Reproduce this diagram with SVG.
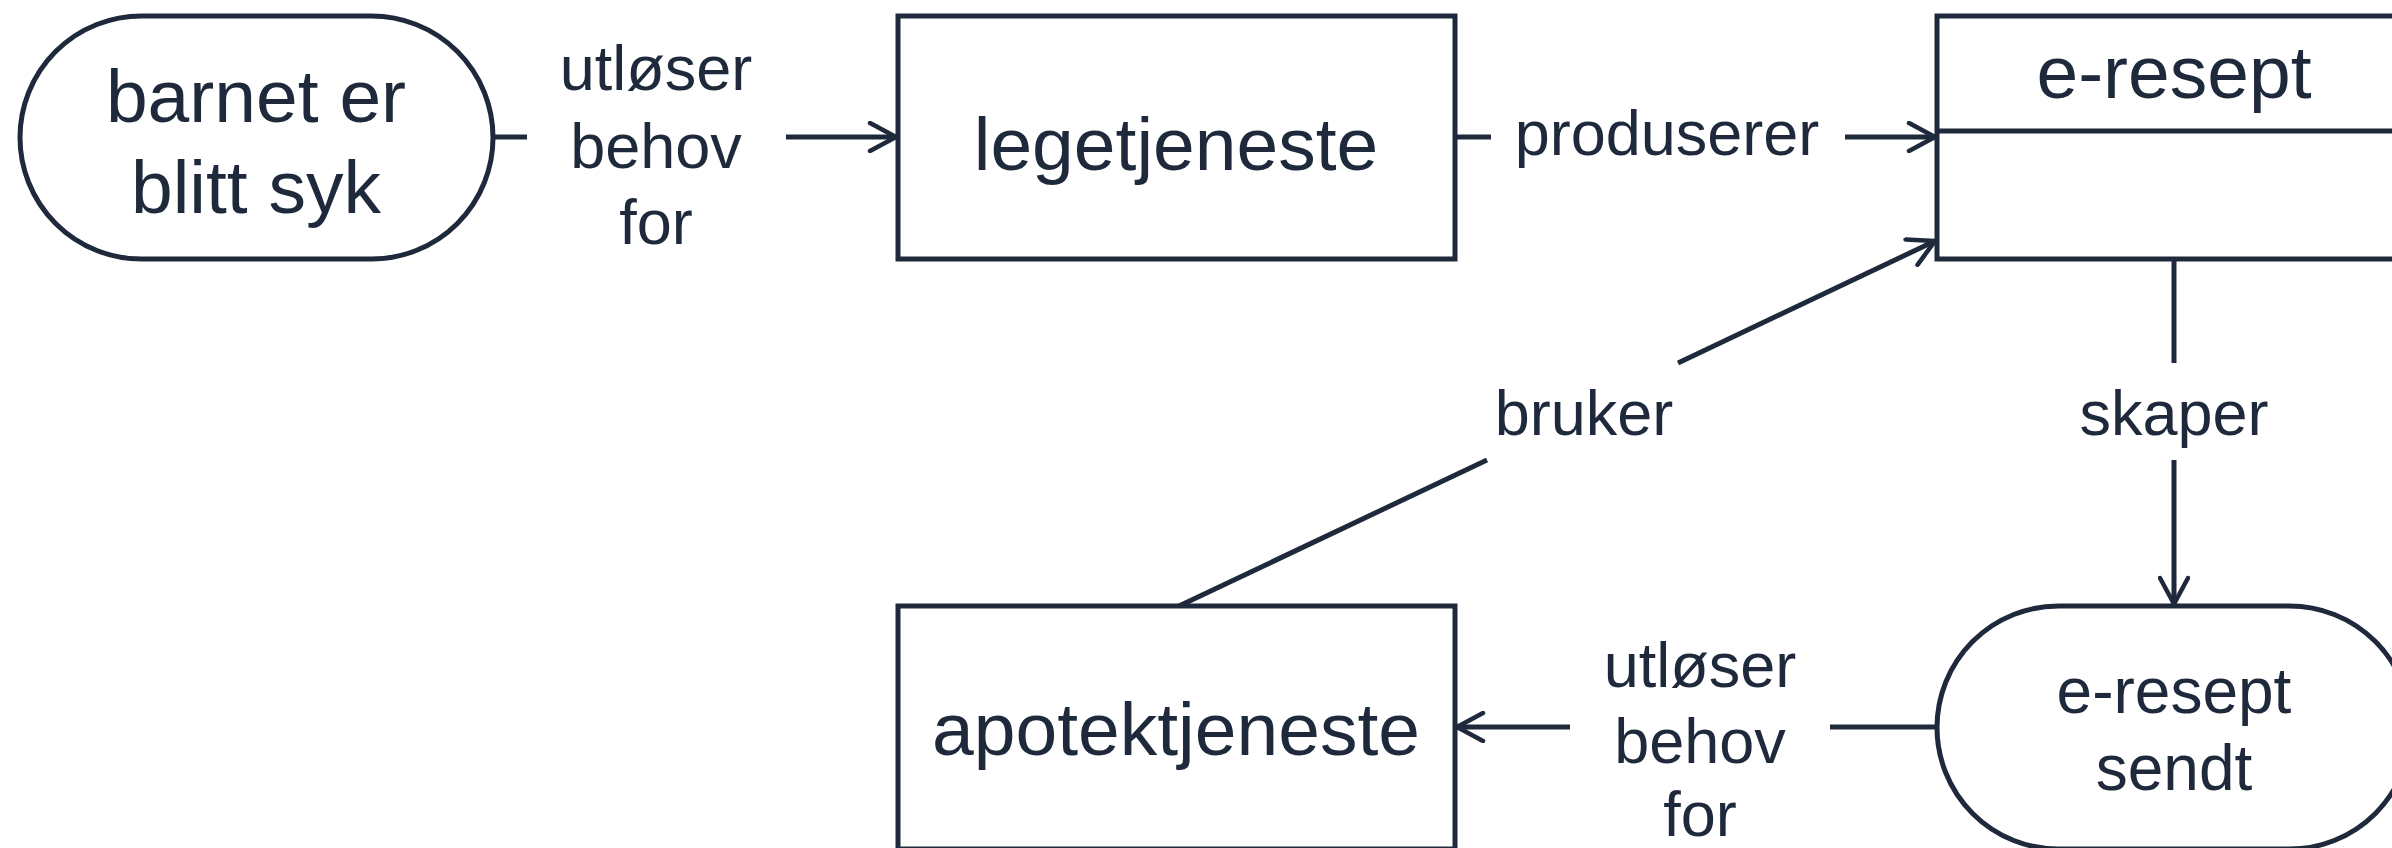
<svg xmlns="http://www.w3.org/2000/svg" width="2392" height="848" viewBox="0 0 2392 848">
<style>
.shape{fill:#ffffff;stroke:#1e293b;stroke-width:5}
.conn{fill:none;stroke:#1e293b;stroke-width:5}
.big{font-family:"Liberation Sans",Arial,sans-serif;font-size:75px;fill:#1e293b;text-anchor:middle}
.mid{font-family:"Liberation Sans",Arial,sans-serif;font-size:64px;fill:#1e293b;text-anchor:middle}
.lbl{font-family:"Liberation Sans",Arial,sans-serif;font-size:63px;fill:#1e293b;text-anchor:middle}
</style>
<defs>
<marker id="arr" markerUnits="userSpaceOnUse" viewBox="0 0 32 32" refX="29" refY="16" markerWidth="32" markerHeight="32" orient="auto">
<path d="M3,2 L29,16 L3,30" fill="none" stroke="#1e293b" stroke-width="4.5" stroke-linecap="round" stroke-linejoin="round"/>
</marker>
</defs>
<rect width="2392" height="848" fill="#ffffff"/>
<g id="connectors">
<line class="conn" x1="493" y1="137" x2="527" y2="137"/>
<line class="conn" x1="786" y1="137" x2="896" y2="137" marker-end="url(#arr)"/>
<text class="lbl" x="656" y="90">utløser</text>
<text class="lbl" x="656" y="168">behov</text>
<text class="lbl" x="656" y="244">for</text>
<line class="conn" x1="1455" y1="137" x2="1491" y2="137"/>
<line class="conn" x1="1845" y1="137" x2="1935" y2="137" marker-end="url(#arr)"/>
<text class="lbl" x="1667" y="155">produserer</text>
<line class="conn" x1="2174" y1="259" x2="2174" y2="363"/>
<line class="conn" x1="2174" y1="460" x2="2174" y2="604" marker-end="url(#arr)"/>
<text class="lbl" x="2174" y="435">skaper</text>
<line class="conn" x1="1179" y1="606" x2="1487" y2="460"/>
<line class="conn" x1="1678" y1="363" x2="1935" y2="241" marker-end="url(#arr)"/>
<text class="lbl" x="1584" y="435">bruker</text>
<line class="conn" x1="1937" y1="727" x2="1830" y2="727"/>
<line class="conn" x1="1570" y1="727" x2="1457" y2="727" marker-end="url(#arr)"/>
<text class="lbl" x="1700" y="687">utløser</text>
<text class="lbl" x="1700" y="763">behov</text>
<text class="lbl" x="1700" y="836">for</text>
</g>
<g id="node-barnet">
<rect class="shape" x="20" y="16" width="473" height="243" rx="121.5" ry="121.5"/>
<text class="big" x="256" y="122">barnet er</text>
<text class="big" x="256" y="213">blitt syk</text>
</g>
<g id="node-legetjeneste">
<rect class="shape" x="898" y="16" width="557" height="243"/>
<text class="big" x="1176" y="170">legetjeneste</text>
</g>
<g id="node-eresept">
<rect class="shape" x="1937" y="16" width="474" height="243"/>
<line class="conn" x1="1937" y1="131" x2="2411" y2="131"/>
<text class="big" x="2174" y="98">e-resept</text>
</g>
<g id="node-apotektjeneste">
<rect class="shape" x="898" y="606" width="557" height="243"/>
<text class="big" x="1176" y="755">apotektjeneste</text>
</g>
<g id="node-eresept-sendt">
<rect class="shape" x="1937" y="606" width="474" height="243" rx="121.5" ry="121.5"/>
<text class="mid" x="2174" y="713">e-resept</text>
<text class="mid" x="2174" y="790">sendt</text>
</g>
</svg>
